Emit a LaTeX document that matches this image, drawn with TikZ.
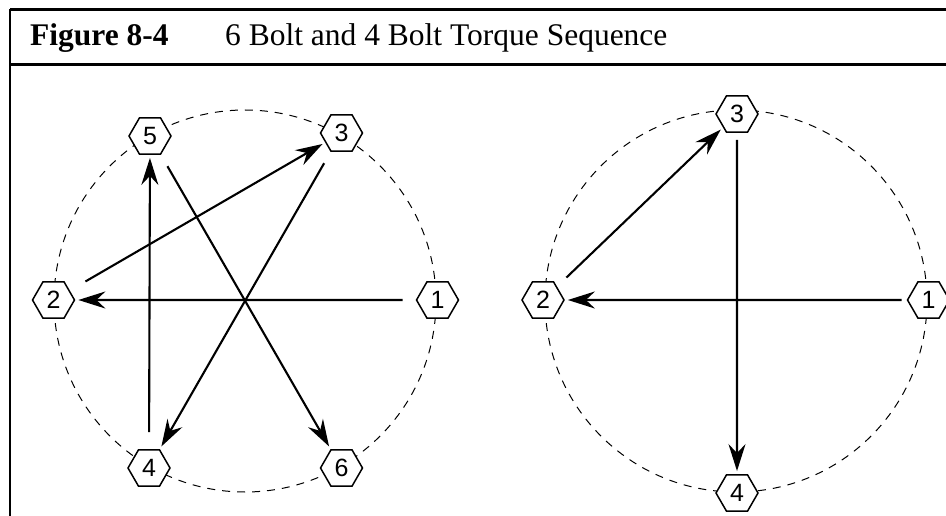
\documentclass[tikz,border=0pt]{standalone}
\usepackage{fontspec}
\setmainfont{Liberation Serif}
\newfontfamily\boltfont{Liberation Sans}
\usepackage{tikz}
\usetikzlibrary{arrows.meta, shapes.geometric}

\begin{document}
\begin{tikzpicture}[
  x=1pt, y=-1pt,
  bolt/.style={regular polygon, regular polygon sides=6, draw=black, fill=white,
               line width=1.5pt, minimum size=42pt, inner sep=0pt,
               font=\boltfont\fontsize{25}{25}\selectfont},
  ttl/.style={anchor=base west, inner sep=0pt, font=\fontsize{31.5}{36}\selectfont},
  rim/.style={draw=black, line width=1pt, dash pattern=on 8pt off 7pt},
  frm/.style={line width=2.5pt, black},
  arr/.style={-{Stealth[length=27pt, width=17pt, inset=9pt]}, line width=2.1pt, black,
              shorten <=13pt, shorten >=3pt}
]
\useasboundingbox (0,0) rectangle (946,516);
%% Frame and title
\draw[frm] (10,9.5) -- (946,9.5);
\draw[frm] (10,64.5) -- (946,64.5);
\draw[frm] (10,9.5) -- (10,516);
\node[ttl] (fig) at (30,46) {\textbf{Figure 8-4}};
\node[ttl] (cap) at (225,46) {6 Bolt and 4 Bolt Torque Sequence};
%% Bolt circles
\draw[rim] (245,301) circle (191);
\draw[rim] (736,301) circle (191);
%% 6 bolt pattern
\node[bolt] (lb1) at (437.5,300) {1};
\node[bolt] (lb2) at (53.5,300) {2};
\node[bolt] (lb3) at (341.5,133) {3};
\node[bolt] (lb4) at (149,468) {4};
\node[bolt] (lb5) at (150,136) {5};
\node[bolt] (lb6) at (341.5,468) {6};
\draw[arr] (lb1) -- (lb2);
\draw[arr, shorten <=18pt] (lb2) -- (lb3);
\draw[arr] (lb3) -- (lb4);
\draw[arr, shorten <=17pt] (lb4) -- (lb5);
\draw[arr] (lb5) -- (lb6);
%% 4 bolt pattern
\node[bolt] (rb1) at (928.5,300) {1};
\node[bolt] (rb2) at (543,300) {2};
\node[bolt] (rb3) at (737,114) {3};
\node[bolt] (rb4) at (737,493) {4};
\draw[arr, shorten <=5pt] (rb1) -- (rb2);
\draw[arr] (rb2) -- (rb3);
\draw[arr, shorten <=7pt] (rb3) -- (rb4);
\end{tikzpicture}
\end{document}
